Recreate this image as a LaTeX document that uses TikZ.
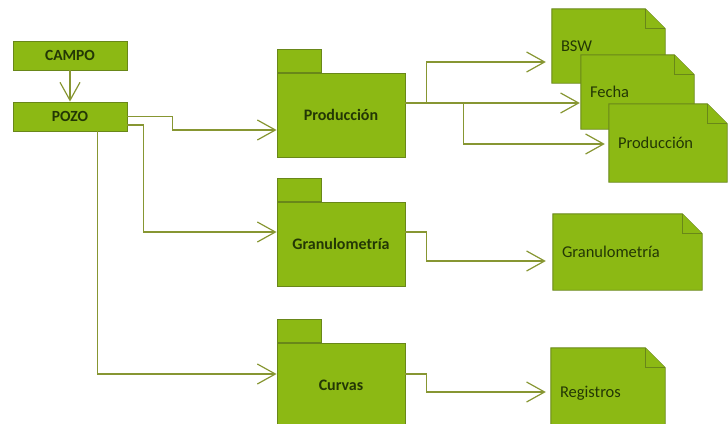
\documentclass[tikz,border=0pt]{standalone}
\usepackage{fontspec}
\setmainfont{Carlito}
\usetikzlibrary{arrows.meta,backgrounds}
\definecolor{boxfill}{RGB}{140,185,20}
\definecolor{boxline}{RGB}{105,135,25}
\definecolor{txtcol}{RGB}{35,55,5}
\definecolor{linecol}{RGB}{135,150,50}
\tikzset{
  x=1pt, y=-1pt,
  plainbox/.style={draw=boxline, fill=boxfill, line width=0.9pt, inner sep=0pt,
    minimum width=114pt, minimum height=29pt, font=\fontsize{15.5}{17}\selectfont\bfseries, text=txtcol},
  pkgbody/.style={draw=boxline, fill=boxfill, line width=0.9pt, inner sep=0pt,
    minimum width=128pt, minimum height=84pt, font=\fontsize{16}{18}\selectfont\bfseries, text=txtcol},
  pkgtab/.style={draw=boxline, fill=boxfill, line width=0.9pt, inner sep=0pt,
    minimum width=44pt, minimum height=22.5pt, anchor=south west},
  docnode/.style={inner xsep=9pt, inner ysep=0pt, align=left, text=txtcol,
    font=\fontsize{16.5}{18}\selectfont},
  docshape/.style={draw=boxline, fill=boxfill, line width=0.9pt, line join=miter},
  conn/.style={draw=linecol, line width=1.2pt, -{Straight Barb[length=18pt,width=20pt,line width=1.2pt]}},
}
\newcommand{\docframe}[1]{%
  \path[docshape] (#1.north west) -- ([xshift=-20pt]#1.north east)
     -- ([yshift=-20pt]#1.north east) -- (#1.south east) -- (#1.south west) -- cycle;
  \path[docshape] ([xshift=-20pt]#1.north east) |- ([yshift=-20pt]#1.north east);
}
\begin{document}
\begin{tikzpicture}
\useasboundingbox (0,0) rectangle (728,423);
\clip (0,0) rectangle (728,423);

% left boxes
\node[plainbox] (campo) at (70,55.5) {CAMPO};
\node[plainbox] (pozo) at (70,116.5) {POZO};

% packages
\node[pkgbody] (prod) at (341,115) {Producción};
\node[pkgtab] (prodtab) at (prod.north west) {};
\node[pkgbody] (granu) at (341,244) {Granulometría};
\node[pkgtab] (granutab) at (granu.north west) {};
\node[pkgbody] (curvas) at (341,385) {Curvas};
\node[pkgtab] (curvastab) at (curvas.north west) {};

% documents
\node[docnode, text width=95pt, minimum height=74pt] (bsw) at (608.5,46) {BSW};
\node[docnode, text width=95pt, minimum height=74pt] (fecha) at (637.5,92) {Fecha};
\node[docnode, text width=100pt, minimum height=78pt] (proddoc) at (668,143) {Producción};
\node[docnode, text width=131pt, minimum height=76pt] (granudoc) at (627.5,252) {Granulometría};
\node[docnode, text width=96pt, minimum height=90pt] (reg) at (608,393) {Registros};
\begin{pgfonlayer}{background}
  \docframe{bsw}
  \docframe{fecha}
  \docframe{proddoc}
  \docframe{granudoc}
  \docframe{reg}
\end{pgfonlayer}

% connectors
\draw[conn] (campo) -- (pozo);
\draw[conn] (pozo.east) -- ++(45,0) |- ([yshift=-15pt]prod.west);
\draw[conn] ([yshift=-8.5pt]pozo.east) -- ++(16,0) |- ([yshift=12pt]granu.west);
\draw[conn] ([xshift=85pt]pozo.south west) |- ([yshift=11pt]curvas.west);

\coordinate (pb) at ([xshift=21pt,yshift=12pt]prod.east);
\draw[conn] ([yshift=12pt]prod.east) -- (pb) |- ([xshift=-6pt,yshift=-16pt]bsw.west);
\draw[conn] (pb) -- ([xshift=-1pt,yshift=-11pt]fecha.west);
\draw[conn] ([xshift=37pt]pb) |- ([xshift=-4pt,yshift=-1pt]proddoc.west);
\draw[conn] ([yshift=12pt]granu.east) -- ++(21,0) |- ([xshift=-7pt,yshift=-9pt]granudoc.west);
\draw[conn] ([yshift=11pt]curvas.east) -- ++(21,0) |- ([xshift=-5pt,yshift=1pt]reg.west);
\end{tikzpicture}
\end{document}
